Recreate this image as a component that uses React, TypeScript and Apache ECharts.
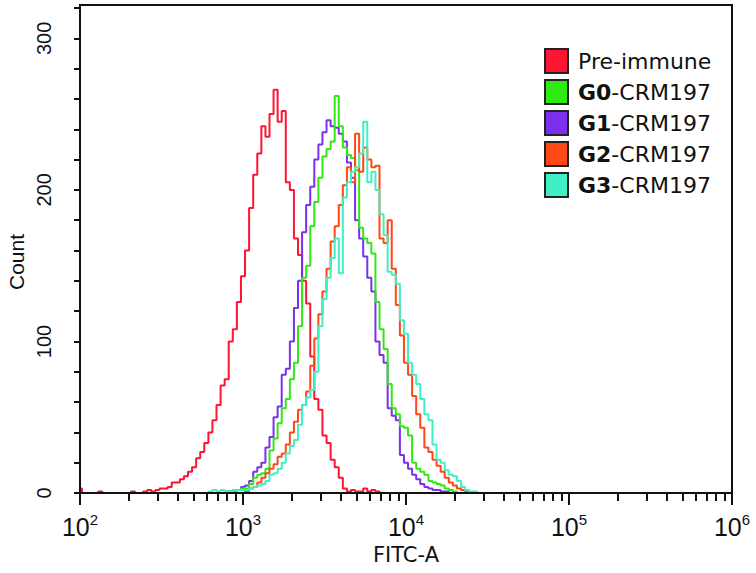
import React, { useEffect, useRef } from 'react';
import * as echarts from 'echarts';

// FITC-A bin positions (channel values), 0.025-decade spacing
const fitcBins = [
  100, 106, 112, 119, 126, 133, 141, 150, 158, 168, 178, 188, 200, 211, 224, 237, 251, 266, 282, 299,
  316, 335, 355, 376, 398, 422, 447, 473, 501, 531, 562, 596, 631, 668, 708, 750, 794, 841, 891, 944,
  1000, 1059, 1122, 1189, 1259, 1334, 1413, 1496, 1585, 1679, 1778, 1884, 1995, 2113, 2239, 2371, 2512, 2661, 2818, 2985,
  3162, 3350, 3548, 3758, 3981, 4217, 4467, 4732, 5012, 5309, 5623, 5957, 6310, 6683, 7079, 7499, 7943, 8414, 8913, 9441,
  10000, 10593, 11220, 11885, 12589, 13335, 14125, 14962, 15849, 16788, 17783, 18836, 19953, 21135, 22387, 23714, 25119, 26607, 28184, 29854,
  31623, 33497, 35481,
];

const preImmune = [
  3, 0, 0, 0, 0, 1, 0, 0, 0, 0, 0, 0, 0, 1, 0, 0, 1, 2, 1, 2,
  3, 3, 4, 7, 7, 9, 11, 14, 17, 23, 27, 33, 40, 48, 58, 71, 75, 100, 108, 126,
  143, 160, 188, 210, 224, 242, 235, 250, 266, 245, 252, 205, 200, 168, 157, 140, 125, 90, 62, 55,
  38, 33, 22, 17, 10, 3, 1, 2, 1, 1, 3, 1, 2, 1, 0, 0, 0, 0, 0, 0,
  0, 0, 0, 0, 0, 0, 0, 0, 0, 0, 0, 0, 0, 0, 0, 0, 0, 0, 0, 0,
  0, 0, 0,
];

const g0 = [
  0, 0, 0, 0, 0, 0, 0, 0, 0, 0, 0, 0, 0, 0, 0, 0, 0, 0, 0, 0,
  0, 0, 0, 0, 0, 0, 0, 0, 0, 0, 0, 0, 0, 0, 0, 0, 0, 1, 1, 2,
  3, 3, 6, 10, 12, 13, 16, 28, 36, 46, 56, 62, 75, 86, 110, 142, 150, 176, 192, 208,
  222, 227, 232, 262, 242, 228, 223, 221, 213, 175, 168, 165, 158, 126, 108, 95, 72, 56, 52, 44,
  43, 38, 20, 16, 14, 12, 8, 7, 6, 5, 3, 2, 1, 0, 0, 0, 0, 0, 0, 0,
  0, 0, 0,
];

const g1 = [
  0, 0, 0, 0, 0, 0, 0, 0, 0, 0, 0, 0, 0, 0, 0, 0, 0, 0, 0, 0,
  0, 0, 0, 0, 0, 0, 0, 0, 0, 0, 0, 0, 0, 0, 0, 0, 1, 1, 2, 2,
  4, 5, 8, 14, 17, 20, 30, 37, 50, 57, 78, 82, 100, 122, 140, 172, 190, 202, 220, 230,
  238, 246, 242, 241, 237, 232, 218, 208, 180, 168, 156, 142, 133, 100, 91, 86, 56, 51, 48, 25,
  20, 16, 12, 9, 6, 4, 3, 2, 2, 1, 1, 0, 0, 0, 0, 0, 0, 0, 0, 0,
  0, 0, 0,
];

const g2 = [
  0, 0, 0, 0, 0, 0, 0, 0, 0, 0, 0, 0, 0, 0, 0, 0, 0, 0, 0, 0,
  0, 0, 0, 0, 0, 0, 0, 0, 0, 0, 0, 0, 0, 0, 0, 0, 0, 0, 0, 0,
  0, 1, 3, 4, 7, 10, 13, 16, 19, 24, 26, 32, 40, 47, 55, 58, 67, 84, 102, 118,
  133, 148, 166, 176, 190, 203, 215, 205, 237, 212, 228, 220, 215, 216, 168, 165, 180, 148, 124, 104,
  86, 78, 64, 52, 43, 30, 27, 22, 18, 14, 10, 7, 5, 3, 2, 1, 0, 0, 0, 0,
  0, 0, 0,
];

const g3 = [
  0, 0, 0, 0, 0, 0, 0, 0, 0, 0, 0, 0, 0, 0, 0, 0, 0, 0, 0, 0,
  0, 0, 0, 0, 0, 0, 0, 0, 0, 0, 0, 0, 1, 2, 1, 2, 1, 1, 2, 2,
  2, 2, 3, 4, 5, 6, 8, 12, 13, 16, 20, 26, 31, 35, 45, 58, 63, 68, 80, 110,
  128, 142, 155, 168, 145, 195, 205, 212, 215, 224, 245, 205, 212, 200, 184, 170, 146, 144, 138, 114,
  105, 86, 78, 72, 62, 52, 48, 32, 22, 20, 15, 12, 11, 8, 4, 2, 1, 1, 0, 0,
  0, 0, 0,
];

const seriesNames = ['Pre-immune', 'G0-CRM197', 'G1-CRM197', 'G2-CRM197', 'G3-CRM197'];
const seriesValues = [preImmune, g0, g1, g2, g3];
const seriesColors = ['#ff1434', '#30e814', '#7a30ee', '#ff4816', '#40f0c4'];
const drawOrder = [0, 2, 1, 3, 4];

const decadeTicks = [100, 1000, 10000, 100000, 1000000];
const minorTicks = [
  200, 300, 400, 500, 600, 700, 800, 900,
  2000, 3000, 4000, 5000, 6000, 7000, 8000, 9000,
  20000, 30000, 40000, 50000, 60000, 70000, 80000, 90000,
  200000, 300000, 400000, 500000, 600000, 700000, 800000, 900000,
];
const yTicks = [0, 20, 40, 60, 80, 100, 120, 140, 160, 180, 200, 220, 240, 260, 280, 300, 320];
const yLabels = [0, 100, 200, 300];

const INK = '#111';

export default function App() {
  const ref = useRef<HTMLDivElement>(null);
  useEffect(() => {
    if (!ref.current) return;
    const chart = echarts.init(ref.current, null, { renderer: 'svg' });
    const option: any = {
      animation: false,
      backgroundColor: '#fff',
      grid: {
        left: 80, right: 24, top: 5, bottom: 80,
        outerBoundsMode: 'none', containLabel: false,
        show: true, borderColor: INK, borderWidth: 2, backgroundColor: 'transparent',
      },
      xAxis: [
        {
          type: 'log', logBase: 10, min: 100, max: 1000000, position: 'bottom', z: 5,
          axisLine: { lineStyle: { color: INK, width: 2 } },
          axisTick: { show: true, inside: false, length: 12, customValues: decadeTicks, lineStyle: { color: INK, width: 2 } },
          axisLabel: {
            customValues: decadeTicks,
            margin: 19,
            formatter: (v: number) => `{b|10}{s|${Math.round(Math.log10(v))}}`,
            rich: {
              b: { fontFamily: 'Liberation Sans', fontSize: 25, color: INK, lineHeight: 30 },
              s: { fontFamily: 'Liberation Sans', fontSize: 15, color: INK, lineHeight: 16, verticalAlign: 'top' },
            },
          },
          splitLine: { show: false },
          minorSplitLine: { show: false },
          name: 'FITC-A', nameLocation: 'middle', nameGap: 49,
          nameTextStyle: { fontFamily: 'DejaVu Sans', fontSize: 21, color: INK },
        },
        {
          type: 'log', logBase: 10, min: 100, max: 1000000, position: 'bottom', z: 5,
          axisLine: { show: false },
          axisTick: { show: true, inside: false, length: 8, customValues: minorTicks, lineStyle: { color: INK, width: 2 } },
          axisLabel: { show: false },
          splitLine: { show: false },
        },
      ],
      yAxis: {
        type: 'value', min: 0, max: 322, z: 5,
        axisLine: { show: true, lineStyle: { color: INK, width: 2 } },
        axisTick: { show: true, inside: false, length: 6, customValues: yTicks, lineStyle: { color: INK, width: 2 } },
        axisLabel: {
          customValues: yLabels, rotate: 90, margin: 26,
          fontFamily: 'Liberation Sans', fontSize: 20, color: INK,
        },
        splitLine: { show: false },
      },
      graphic: [
        {
          type: 'text',
          x: 16, y: 262,
          rotation: Math.PI / 2,
          style: {
            text: 'Count',
            fontFamily: 'Liberation Sans', fontSize: 21, fill: INK,
            align: 'center', verticalAlign: 'middle',
          },
        },
      ],
      legend: {
        orient: 'vertical', left: 544, top: 48, padding: 0,
        itemWidth: 23, itemHeight: 24, itemGap: 5,
        icon: 'rect', selectedMode: false,
        itemStyle: { borderColor: '#222', borderWidth: 2 },
        data: seriesNames,
        formatter: (name: string) =>
          name.startsWith('G') ? `{b|${name.slice(0, 2)}}{n|${name.slice(2)}}` : `{n|${name}}`,
        textStyle: {
          fontFamily: 'DejaVu Sans', fontSize: 22, color: INK, lineHeight: 24,
          padding: [0, 0, 0, 5],
          rich: {
            b: { fontFamily: 'DejaVu Sans', fontSize: 22, fontWeight: 'bold', color: INK, lineHeight: 24 },
            n: { fontFamily: 'DejaVu Sans', fontSize: 22, color: INK, lineHeight: 24 },
          },
        },
      },
      series: drawOrder.map((i) => ({
        type: 'line',
        name: seriesNames[i],
        xAxisIndex: 0,
        data: fitcBins.map((x, j) => [x, seriesValues[i][j]]),
        step: 'middle',
        symbol: 'none',
        showSymbol: false,
        lineStyle: { width: 2, color: seriesColors[i] },
        itemStyle: { color: seriesColors[i] },
        z: 2,
      })),
    };
    chart.setOption(option);
    return () => chart.dispose();
  }, []);
  return (
    <div
      ref={ref}
      style={{ position: 'fixed', left: 0, top: 0, width: 756, height: 573, background: '#fff' }}
    />
  );
}
